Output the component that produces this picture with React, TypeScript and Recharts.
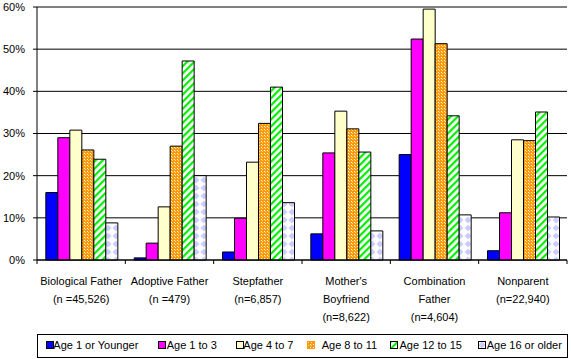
import React from 'react';
import { BarChart, Bar, XAxis, YAxis, CartesianGrid, ReferenceLine } from 'recharts';

const categories = [
  'Biological Father\n(n =45,526)',
  'Adoptive Father\n(n =479)',
  'Stepfather\n(n=6,857)',
  "Mother's\nBoyfriend\n(n=8,622)",
  'Combination\nFather\n(n=4,604)',
  'Nonparent\n(n=22,940)',
];

const seriesNames = ['Age 1 or Younger', 'Age 1 to 3', 'Age 4 to 7', 'Age 8 to 11', 'Age 12 to 15', 'Age 16 or older'];

const age1OrYounger = [16.0, 0.5, 1.9, 6.2, 25.0, 2.2];
const age1to3 = [29.0, 4.0, 9.9, 25.4, 52.4, 11.2];
const age4to7 = [30.8, 12.6, 23.2, 35.3, 59.5, 28.5];
const age8to11 = [26.1, 27.0, 32.4, 31.1, 51.3, 28.3];
const age12to15 = [23.9, 47.2, 41.0, 25.6, 34.2, 35.1];
const age16OrOlder = [8.8, 20.0, 13.6, 6.9, 10.7, 10.2];

const yTicks = [0, 10, 20, 30, 40, 50, 60];

const seriesValues = [age1OrYounger, age1to3, age4to7, age8to11, age12to15, age16OrOlder];
const keys = ['s0', 's1', 's2', 's3', 's4', 's5'];
const fills = ['#0000FF', '#FF00FF', '#FFFFCC', 'url(#patOrange)', 'url(#patGreen)', 'url(#patLav)'];

const data = categories.map((c, i) => {
  const row: any = { name: c };
  keys.forEach((k, j) => (row[k] = seriesValues[j][i]));
  return row;
});

const W = 571;
const H = 359;
const XH = 30;
const M = { top: 7, right: 4, bottom: 99 - XH, left: 0 };
const YW = 37;
const BAND = (W - M.left - M.right - YW) / categories.length;
const FONT = '"Liberation Sans", Arial, sans-serif';

function CatTick(props: any) {
  const { x, y, payload, index } = props;
  const lines = String(payload.value).split('\n');
  return (
    <g>
      <line x1={x - BAND / 2} x2={x - BAND / 2} y1={y} y2={y + 4} stroke="#000" />
      {index === categories.length - 1 && (
        <line x1={x + BAND / 2} x2={x + BAND / 2} y1={y} y2={y + 4} stroke="#000" />
      )}
      <text x={x} y={y} textAnchor="middle" fontSize={11} fontFamily={FONT} fill="#000">
        {lines.map((l, i) => (
          <tspan key={i} x={x} y={y + 25 + i * 18}>
            {l}
          </tspan>
        ))}
      </text>
    </g>
  );
}

const legendPos = [
  { sq: 45.7, tx: 53.3 },
  { sq: 158.3, tx: 166.7 },
  { sq: 235.7, tx: 243.3 },
  { sq: 306.7, tx: 321.7 },
  { sq: 390, tx: 399.5 },
  { sq: 478.3, tx: 486.7 },
];

export default function App() {
  return (
    <div style={{ position: 'absolute', left: 0, top: 0, width: W, height: H, background: '#fff', fontFamily: FONT }}>
      <svg width={0} height={0} style={{ position: 'absolute' }}>
        <defs>
          <pattern id="patOrange" patternUnits="userSpaceOnUse" width={3} height={3}>
            <rect width={3} height={3} fill="#FF9900" />
            <rect x={0} y={0} width={1} height={1} fill="#FFFFFF" />
            <rect x={1} y={1} width={1} height={1} fill="#FFD9A0" />
          </pattern>
          <pattern id="patGreen" patternUnits="userSpaceOnUse" width={5} height={5} patternTransform="rotate(45)">
            <rect width={5} height={5} fill="#fff" />
            <rect width={2.2} height={5} fill="#00EE00" />
          </pattern>
          <pattern id="patLav" patternUnits="userSpaceOnUse" width={8} height={8}>
            <rect width={8} height={8} fill="#fff" />
            <polygon points="4,0.5 7.5,4 4,7.5 0.5,4" fill="#CCCCFF" />
          </pattern>
        </defs>
      </svg>
      <BarChart width={W} height={H} data={data} margin={M} barCategoryGap="10%" barGap={0}>
        <CartesianGrid vertical={false} stroke="#000" strokeDasharray="" />
        <XAxis
          dataKey="name"
          interval={0}
          height={XH}
          tickLine={false}
          tickSize={0}
          tickMargin={0}
          axisLine={{ stroke: '#000' }}
          tick={<CatTick />}
        />
        <YAxis
          width={YW}
          domain={[0, 60]}
          ticks={yTicks}
          tickFormatter={(v: number) => `${v}%`}
          tickSize={4}
          tickMargin={8}
          axisLine={{ stroke: '#000' }}
          tickLine={{ stroke: '#000' }}
          tick={{ fill: '#000', fontSize: 11, fontFamily: FONT }}
          interval={0}
        />
        <YAxis
          yAxisId="right"
          orientation="right"
          width={0}
          domain={[0, 60]}
          tick={false}
          tickLine={false}
          axisLine={{ stroke: '#808080' }}
        />
        <ReferenceLine y={60} stroke="#808080" />
        {keys.map((k, j) => (
          <Bar key={k} dataKey={k} name={seriesNames[j]} fill={fills[j]} stroke="#000" strokeWidth={1} isAnimationActive={false} />
        ))}
      </BarChart>
      <div
        style={{
          position: 'absolute',
          left: 37,
          top: 334,
          width: 531,
          height: 24,
          border: '1px solid #000',
          boxSizing: 'border-box',
          background: '#fff',
        }}
      />
      {seriesNames.map((n, j) => (
        <React.Fragment key={n}>
          <svg width={8} height={8} style={{ position: 'absolute', left: legendPos[j].sq, top: 341 }}>
            <rect x={0.5} y={0.5} width={7} height={7} fill={fills[j]} stroke={j === 3 ? '#FF9900' : '#000'} />
          </svg>
          <div
            style={{
              position: 'absolute',
              left: legendPos[j].tx,
              top: 338,
              fontSize: 11,
              lineHeight: '14px',
              color: '#000',
              whiteSpace: 'nowrap',
              fontFamily: FONT,
            }}
          >
            {n}
          </div>
        </React.Fragment>
      ))}
    </div>
  );
}
